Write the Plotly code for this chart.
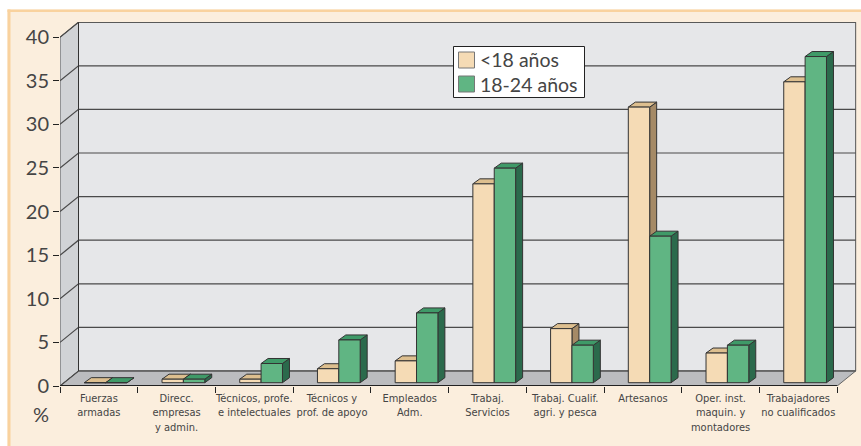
import plotly.graph_objects as go

categories = ["Fuerzas<br>armadas", "Direcc.<br>empresas<br>y admin.", "Técnicos, profe.<br>e intelectuales",
              "Técnicos y<br>prof. de apoyo", "Empleados<br>Adm.", "Trabaj.<br>Servicios",
              "Trabaj. Cualif.<br>agri. y pesca", "Artesanos", "Oper. inst.<br>maquin. y<br>montadores",
              "Trabajadores<br>no cualificados"]
under_18 = [0, 0.4, 0.4, 1.6, 2.5, 22.8, 6.2, 31.6, 3.4, 34.5]
from_18_24 = [0, 0.4, 2.2, 4.9, 8.0, 24.6, 4.3, 16.8, 4.3, 37.4]
y_ticks = [0, 5, 10, 15, 20, 25, 30, 35, 40]
series_names = ["<18 años", "18-24 años"]

W, H = 861, 446
L, R, T, B = 60, 3, 22, 60
DEPTH_X, DEPTH_Y = 0.238, 1.72        # wall depth in axis units
BAR_DX, BAR_DY = 0.09, 0.575          # bar depth in axis units
BAR_W, BAR_SHIFT, BAR_BASE = 0.275, 0.0875, 0.38
XMAX = 10 + DEPTH_X + 0.03
YMAX = 40 + DEPTH_Y + 0.02

TEXT = "#454545"
BG, BORDER = "#FBEEDD", "#F9D29E"
WALL, SIDE, FLOOR = "#E6E7E9", "#D1D3D6", "#BBBCBF"
TAN, TAN_TOP, TAN_SIDE = "#F5DBB5", "#DDBF8F", "#A58A66"
GRN, GRN_TOP, GRN_SIDE = "#60B583", "#3F9A68", "#2B6A4C"
EDGE = "#333333"


def poly(pts, fill, line=EDGE, width=1):
    path = "M" + " L".join(f"{x},{y}" for x, y in pts) + " Z"
    return dict(type="path", path=path, xref="x", yref="y", fillcolor=fill,
                line=dict(color=line, width=width), layer="below")


def seg(pts, color, width=1):
    path = "M" + " L".join(f"{x},{y}" for x, y in pts)
    return dict(type="path", path=path, xref="x", yref="y",
                line=dict(color=color, width=width), layer="below")


px = lambda v: (v - L) / (W - L - R)
py = lambda v: 1 - (v - T) / (H - T - B)


def box(x0, y0, x1, y1, fill, line=None, width=1, layer="above"):
    return dict(type="rect", xref="paper", yref="paper", x0=px(x0), x1=px(x1), y0=py(y1), y1=py(y0),
                fillcolor=fill, line=dict(color=line or fill, width=width if line else 0), layer=layer)


shapes = [
    box(-2, -2, W + 2, 9.5, "white", layer="below"),
    box(-2, -2, 7.5, H + 2, "white", layer="below"),
    box(7.5, 9.5, W + 2, 12, BORDER, layer="below"),
    box(7.5, 9.5, 10.5, H + 2, BORDER, layer="below"),
]
shapes.append(poly([(DEPTH_X, DEPTH_Y), (10 + DEPTH_X, DEPTH_Y), (10 + DEPTH_X, 40 + DEPTH_Y), (DEPTH_X, 40 + DEPTH_Y)],
                   WALL, "#555555", 1))
shapes.append(poly([(0, 0), (DEPTH_X, DEPTH_Y), (DEPTH_X, 40 + DEPTH_Y), (0, 40)], SIDE, "#555555", 1))
shapes.append(poly([(0, 0), (10, 0), (10 + DEPTH_X, DEPTH_Y), (DEPTH_X, DEPTH_Y)], FLOOR, "#666666", 1))
for v in y_ticks:
    shapes.append(seg([(0, v), (DEPTH_X, v + DEPTH_Y), (10 + DEPTH_X, v + DEPTH_Y)], "#4a4a4a", 1.2))
shapes.append(seg([(DEPTH_X, DEPTH_Y), (DEPTH_X, 40 + DEPTH_Y)], "#333333", 1))
shapes.append(seg([(0, 0), (10, 0)], "#222222", 2))

xs_tan, xs_grn = [], []
for i, (a, b) in enumerate(zip(under_18, from_18_24)):
    xa = i + 0.5 + BAR_SHIFT - BAR_W / 2
    xb = i + 0.5 + BAR_SHIFT + BAR_W / 2
    xs_tan.append(xa)
    xs_grn.append(xb)
    for xc, v, top, side in ((xa, a, TAN_TOP, TAN_SIDE), (xb, b, GRN_TOP, GRN_SIDE)):
        x0, x1 = xc - BAR_W / 2, xc + BAR_W / 2
        yb, yt = BAR_BASE, BAR_BASE + v
        shapes.append(poly([(x1, yb), (x1 + BAR_DX, yb + BAR_DY), (x1 + BAR_DX, yt + BAR_DY), (x1, yt)], side))
        shapes.append(poly([(x0, yt), (x1, yt), (x1 + BAR_DX, yt + BAR_DY), (x0 + BAR_DX, yt + BAR_DY)], top))

# legend box, swatches
shapes.append(box(453.5, 46.5, 584.5, 97.5, "white", "#222222", 1))
shapes.append(box(458.5, 52, 474.5, 68, TAN, "#777777", 1))
shapes.append(box(458.5, 76, 474.5, 92, GRN, "#777777", 1))

fig = go.Figure()
fig.add_bar(x=xs_tan, y=under_18, base=BAR_BASE, width=BAR_W, name=series_names[0],
            marker=dict(color=TAN, line=dict(color=EDGE, width=1)))
fig.add_bar(x=xs_grn, y=from_18_24, base=BAR_BASE, width=BAR_W, name=series_names[1],
            marker=dict(color=GRN, line=dict(color=EDGE, width=1)))


def label(text, x, y, size, anchor="center"):
    return dict(text=text, xref="paper", yref="paper", x=px(x), y=py(y), xanchor=anchor, yanchor="middle",
                showarrow=False, font=dict(size=size, color=TEXT))


fig.update_layout(
    width=W, height=H, margin=dict(l=L, r=R, t=T, b=B, autoexpand=False),
    paper_bgcolor=BG, plot_bgcolor="rgba(0,0,0,0)", barmode="overlay", shapes=shapes, showlegend=False,
    font=dict(family="Lato, sans-serif", color=TEXT),
    xaxis=dict(range=[0, XMAX], tickmode="array", tickvals=[i + 0.5 for i in range(10)], ticktext=categories,
               ticks="", showgrid=False, zeroline=False, showline=False, tickangle=0, ticklabelstandoff=4,
               tickfont=dict(family="DejaVu Sans Condensed, Lato, sans-serif", size=11, color=TEXT),
               minor=dict(tickmode="array", tickvals=list(range(11)), ticks="outside", ticklen=6, tickwidth=1,
                          tickcolor="#222222", showgrid=False)),
    yaxis=dict(range=[0, YMAX], tickmode="array", tickvals=y_ticks, ticks="outside", ticklen=6, tickwidth=1,
               tickcolor="#222222", showgrid=False, zeroline=False, showline=False, tickfont=dict(size=20)),
    annotations=[
        label("%", 41, 414, 20),
        label(series_names[0].replace("<", "&lt;"), 478, 60, 19.5, "left"),
        label(series_names[1], 478, 84, 19.5, "left"),
    ],
)
fig.write_html("out.html", config={"displayModeBar": False},
               post_script="document.body.style.margin='0';document.documentElement.style.overflow='hidden';")
